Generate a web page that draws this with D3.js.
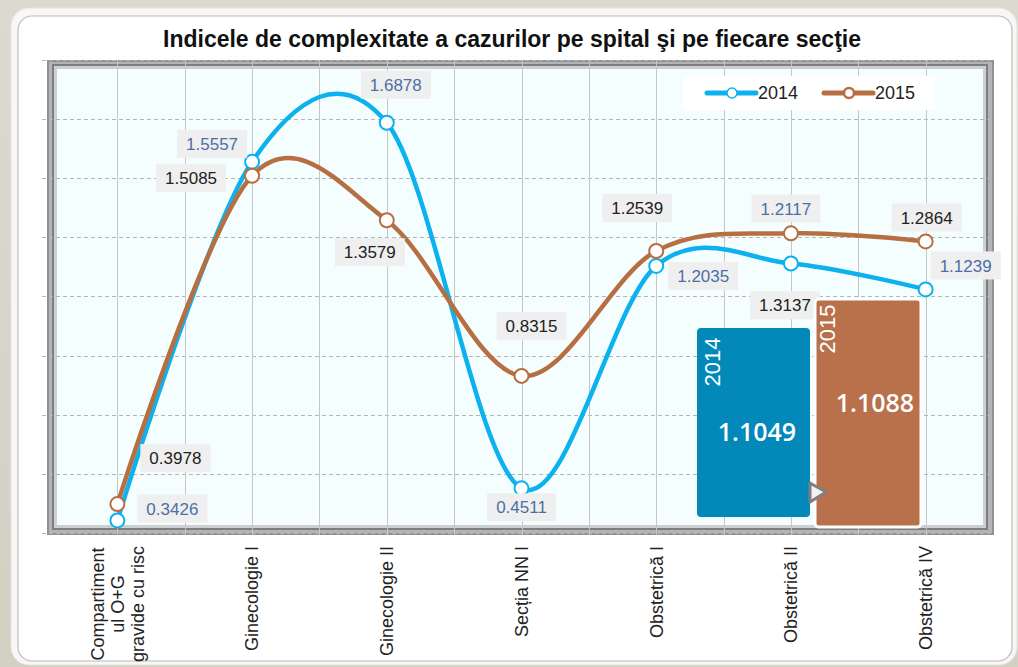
<!DOCTYPE html>
<html><head><meta charset="utf-8">
<script src="https://cdn.jsdelivr.net/npm/d3@7"></script>
<style>html,body{margin:0;padding:0;background:#d6d3c8;overflow:hidden}svg{display:block}</style>
</head><body><svg id="chart" width="1018" height="667"></svg>
<script>
// ---------- data ----------
const titleText = "Indicele de complexitate a cazurilor pe spital şi pe fiecare secţie";
const categories = ["Compartimentul O+G gravide cu risc","Ginecologie I","Ginecologie II","Secția NN I","Obstetrică I","Obstetrică II","Obstetrică IV"];
const categoryLines = [["Compartiment","ul O+G","gravide cu risc"],["Ginecologie I"],["Ginecologie II"],["Secția NN I"],["Obstetrică I"],["Obstetrică II"],["Obstetrică IV"]];
const seriesNames = ["2014","2015"];
const values2014 = [0.3426,1.5557,1.6878,0.4511,1.2035,1.2117,1.1239];
const values2015 = [0.3978,1.5085,1.3579,0.8315,1.2539,1.3137,1.2864];
const hospitalIndex = [1.1049,1.1088];
const yTicks = [0.3,0.5,0.7,0.9,1.1,1.3,1.5,1.7,1.9];

// ---------- layout (not data) ----------
const labelOffsets2014 = [[55,-12],[-40,-18],[9,-38],[0,19],[47,10],[-5,-55],[40,-24]];
const labelOffsets2015 = [[58,-46],[-61,2],[-17,32],[10,-50],[-19,-43],[-6,72],[1,-24]];
const colors = {"2014":"#0db1ee","2015":"#b76f42"};
const labelColors = {"2014":"#4b6fa6","2015":"#222222"};
const FONT = "'Liberation Sans', Arial, sans-serif";

const svg = d3.select("#chart");
const defs = svg.append("defs");
const bg = defs.append("linearGradient").attr("id","bg").attr("x1",0).attr("y1",0).attr("x2",0).attr("y2",1);
bg.append("stop").attr("offset","0%").attr("stop-color","#dcd9cf");
bg.append("stop").attr("offset","100%").attr("stop-color","#d2cfc3");
svg.append("rect").attr("width",1018).attr("height",667).attr("fill","url(#bg)");

// card
svg.append("rect").attr("x",11).attr("y",8).attr("width",1006).attr("height",657).attr("rx",18).attr("fill","#f7f7f7").attr("stroke","#e4e4e4");
svg.append("rect").attr("x",18).attr("y",16).attr("width",994).attr("height",645).attr("rx",14).attr("fill","#ffffff").attr("stroke","#bcbcbc").attr("stroke-width",1.2);

// title
svg.append("text").attr("x",512).attr("y",47).attr("text-anchor","middle")
  .attr("font-family",FONT).attr("font-weight","bold").attr("font-size",23).attr("fill","#111")
  .text(titleText);

// scales
const x = d3.scaleBand().domain(categories).range([50,993]);
const cx = c => x(c) + x.bandwidth()/2;
const y = d3.scaleLinear().domain([0.3,1.9]).range([533,60]);

// frame (beveled)
const fr = svg.append("g");
fr.append("rect").attr("x",47).attr("y",60).attr("width",947).attr("height",475).attr("fill","#8f9193");
fr.append("rect").attr("x",49).attr("y",62).attr("width",943).attr("height",471).attr("fill","#b2b4b6");
fr.append("rect").attr("x",52).attr("y",64).attr("width",936).attr("height",466).attr("fill","#7c7e80");
fr.append("rect").attr("x",54).attr("y",66).attr("width",932).attr("height",462).attr("fill","#cdcfd1");
fr.append("rect").attr("x",57).attr("y",69).attr("width",926).attr("height",456).attr("fill","#f4feff");

// horizontal dashed grid
svg.append("g").selectAll("line").data(yTicks).join("line")
  .attr("x1",42).attr("x2",993).attr("y1",d=>Math.round(y(d))+0.5).attr("y2",d=>Math.round(y(d))+0.5)
  .attr("stroke","#b4b4b4").attr("stroke-width",1).attr("stroke-dasharray","4,3");

// vertical grid (band centres and boundaries)
const vx = [];
categories.forEach((c,i)=>{ vx.push(cx(c)); if(i>0) vx.push(x(c)); });
svg.append("g").selectAll("line").data(vx).join("line")
  .attr("x1",d=>Math.round(d)+0.5).attr("x2",d=>Math.round(d)+0.5).attr("y1",60).attr("y2",535)
  .attr("stroke","#c6c6c6").attr("stroke-width",1);

// x axis labels
const xl = svg.append("g").attr("font-family",FONT).attr("font-size",18).attr("fill","#222");
categoryLines.forEach((lines,i)=>{
  const c = categories[i];
  const g = xl.append("g").attr("transform",`translate(${cx(c)},546) rotate(-90)`);
  const ts = lines.map((ln,j)=> g.append("text").attr("text-anchor","middle")
      .attr("y",(j-(lines.length-1)/2)*20).attr("dy","0.35em").text(ln));
  const w = d3.max(ts, t=>t.node().getComputedTextLength());
  ts.forEach(t=>t.attr("x",-w/2));
});

// lines
const series = [{name:"2014",values:values2014,offs:labelOffsets2014},{name:"2015",values:values2015,offs:labelOffsets2015}];
const line = d3.line().x((d,i)=>cx(categories[i])).y(d=>y(d)).curve(d3.curveCatmullRom.alpha(0));
series.forEach(s=>{
  svg.append("path").attr("d",line(s.values)).attr("fill","none")
    .attr("stroke",colors[s.name]).attr("stroke-width",4.5).attr("stroke-linecap","round");
  svg.append("g").selectAll("circle").data(s.values).join("circle")
    .attr("cx",(d,i)=>cx(categories[i])).attr("cy",d=>y(d)).attr("r",7)
    .attr("fill","#fff").attr("stroke",colors[s.name]).attr("stroke-width",2);
});

// data labels
series.forEach(s=>{
  s.values.forEach((v,i)=>{
    const px = cx(categories[i]) + s.offs[i][0], py = y(v) + s.offs[i][1];
    const g = svg.append("g");
    const r = g.append("rect").attr("fill","#efefef");
    const t = g.append("text").attr("x",px).attr("y",py).attr("dy","0.36em").attr("text-anchor","middle")
      .attr("font-family",FONT).attr("font-size",17).attr("fill",labelColors[s.name]).text(v.toFixed(4));
    const w = t.node().getComputedTextLength();
    r.attr("x",px-w/2-9).attr("y",py-14).attr("width",w+18).attr("height",28);
  });
});

// legend
const lg = svg.append("g");
lg.append("rect").attr("x",683).attr("y",76).attr("width",252).attr("height",34).attr("fill","#ffffff");
const legX = [707,824];
seriesNames.forEach((n,i)=>{
  const x0 = legX[i];
  lg.append("line").attr("x1",x0).attr("x2",x0+49).attr("y1",93).attr("y2",93)
    .attr("stroke",colors[n]).attr("stroke-width",5).attr("stroke-linecap","round");
  lg.append("circle").attr("cx",x0+25).attr("cy",93).attr("r",5).attr("fill","#fff")
    .attr("stroke",colors[n]).attr("stroke-width",n==="2015"?2.5:1.5);
  lg.append("text").attr("x",x0+51).attr("y",93).attr("dy","0.36em").attr("font-family",FONT)
    .attr("font-size",18).attr("fill","#222").text(n);
});

// summary boxes (hospital index per year)
const boxes = [
  {name:"2014",fill:"#0289b9",x:697,y:328,w:113,h:189,yr:[712,362],val:[757,432],stroke:"none"},
  {name:"2015",fill:"#b8714a",x:815,y:299,w:106,h:228,yr:[827,329],val:[875,403],stroke:"#ffffff"}
];
boxes.forEach((b,i)=>{
  const g = svg.append("g");
  g.append("rect").attr("x",b.x).attr("y",b.y).attr("width",b.w).attr("height",b.h).attr("rx",4)
    .attr("fill",b.fill).attr("stroke",b.stroke).attr("stroke-width",3);
  g.append("text").attr("transform",`translate(${b.yr[0]},${b.yr[1]}) rotate(-90)`)
    .attr("text-anchor","middle").attr("dy","0.36em").attr("font-family",FONT).attr("font-size",22)
    .attr("fill","#fff").text(seriesNames[i]);
  g.append("text").attr("x",b.val[0]).attr("y",b.val[1]).attr("dy","0.36em").attr("text-anchor","middle")
    .attr("font-family","'Open Sans', sans-serif").attr("font-weight",600).attr("font-size",25)
    .attr("fill","#fff").text(hospitalIndex[i].toFixed(4));
});
svg.append("path").attr("d","M810,483 L826,492 L810,502 Z").attr("fill","#f2f2f2")
  .attr("stroke","#7f7f7f").attr("stroke-width",3).attr("stroke-linejoin","round");
</script>
</body></html>
